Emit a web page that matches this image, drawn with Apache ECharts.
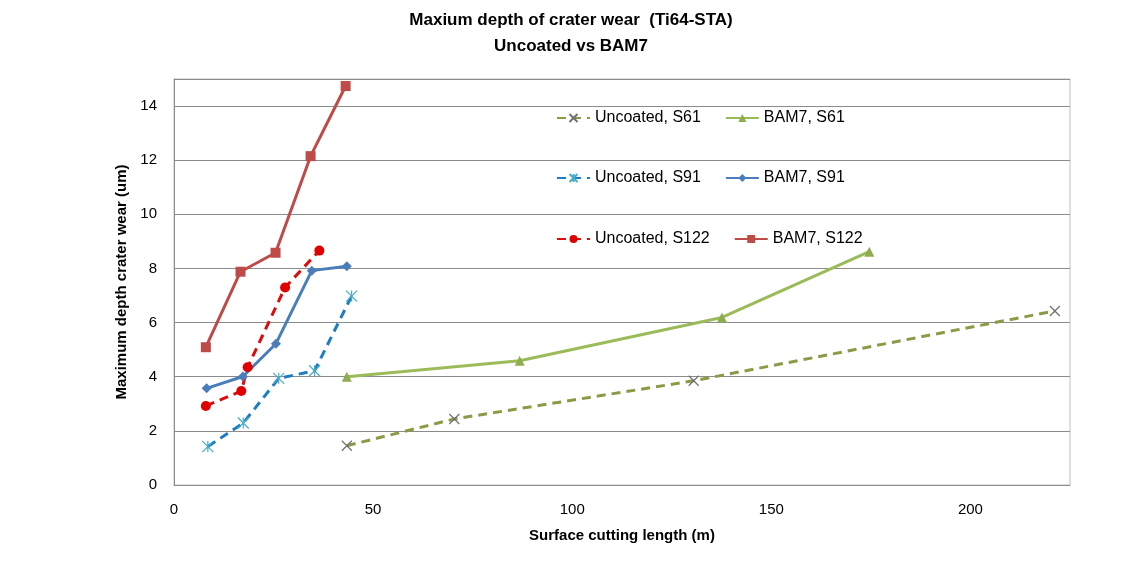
<!DOCTYPE html>
<html><head><meta charset="utf-8">
<script src="https://cdn.jsdelivr.net/npm/echarts@6/dist/echarts.min.js"></script>
<style>html,body{margin:0;padding:0;background:#fff}#c{width:1142px;height:565px}</style>
</head><body><div id="c"></div>
<script>
const seriesNames = ['Uncoated, S61','BAM7, S61','Uncoated, S91','BAM7, S91','Uncoated, S122','BAM7, S122'];
const uncoatedS61 = [[43.4,1.45],[70.4,2.44],[130.5,3.85],[221.2,6.43]];
const bam7S61 = [[43.4,4.0],[86.8,4.59],[137.6,6.19],[174.6,8.62]];
const uncoatedS91 = [[8.5,1.42],[17.4,2.29],[26.3,3.94],[35.3,4.22],[44.6,6.98]];
const bam7S91 = [[8.2,3.57],[17.3,4.01],[25.6,5.22],[34.6,7.92],[43.4,8.08]];
const uncoatedS122 = [[8.0,2.92],[16.9,3.47],[18.5,4.35],[27.9,7.30],[36.5,8.66]];
const bam7S122 = [[8.0,5.09],[16.7,7.88],[25.5,8.58],[34.3,12.15],[43.1,14.74]];
const titleLines = ['Maxium depth of crater wear  (Ti64-STA)','Uncoated vs BAM7'];
const xName = 'Surface cutting length (m)';
const yName = 'Maximum depth crater wear (um)';

const FONT = '"Liberation Sans", Arial, sans-serif';
const xSym = 'path://M0,0L10,10M10,0L0,10';
const starSym = 'path://M0,0L10,10M10,0L0,10M5,0L5,10';

function mk(name, data, color, dashed, symbol, size, symColor, symBorder) {
  return {
    name, type: 'line', data, symbol, symbolSize: size,
    lineStyle: {color, width: 3, type: dashed ? [9,6] : 'solid'},
    itemStyle: symBorder ? {color: 'rgba(0,0,0,0)', borderColor: symColor, borderWidth: 1.2} : {color: symColor, borderWidth: 0},
    color: color,
    emphasis: {disabled: true}, animation: false
  };
}
const series = [
  mk(seriesNames[0], uncoatedS61, '#8A9B45', true, xSym, 10, '#707070', true),
  mk(seriesNames[1], bam7S61, '#9BBB59', false, 'triangle', 10, '#8EAD4E', false),
  mk(seriesNames[2], uncoatedS91, '#1C7CC4', true, starSym, 11, '#4BACC6', true),
  mk(seriesNames[3], bam7S91, '#4A7EBB', false, 'diamond', 10, '#4A7EBB', false),
  mk(seriesNames[4], uncoatedS122, '#DD0B0B', true, 'circle', 10, '#E00000', false),
  mk(seriesNames[5], bam7S122, '#BE4B48', false, 'rect', 10, '#BE4B48', false)
];
function leg(top, names) {
  return {top, left: 551, itemWidth: 33, itemHeight: 10, itemGap: 24,
    textStyle: {fontFamily: FONT, fontSize: 16, color: '#000'}, data: names, selectedMode: false};
}
const chart = echarts.init(document.getElementById('c'), null, {renderer: 'canvas'});
chart.setOption({
  animation: false,
  title: [
    {text: titleLines[0], left: 'center', top: 7, textStyle: {fontFamily: FONT, fontSize: 17, fontWeight: 'bold', color: '#000'}},
    {text: titleLines[1], left: 'center', top: 33, textStyle: {fontFamily: FONT, fontSize: 17, fontWeight: 'bold', color: '#000'}}
  ],
  legend: [leg(105, seriesNames.slice(0,2)), leg(165, seriesNames.slice(2,4)), leg(226, seriesNames.slice(4,6))],
  grid: {left: 174, right: 72, top: 79, bottom: 80, show: true, borderColor: '#BFBFBF', borderWidth: 1},
  xAxis: {type: 'value', min: 0, max: 225, interval: 50,
    name: xName, nameLocation: 'middle', nameGap: 43,
    nameTextStyle: {fontFamily: FONT, fontSize: 15, fontWeight: 'bold', color: '#000'},
    axisLine: {show: true, lineStyle: {color: '#8C8C8C'}}, axisTick: {show: false},
    axisLabel: {fontFamily: FONT, fontSize: 15, color: '#000', margin: 17, showMaxLabel: false},
    splitLine: {show: false}},
  yAxis: {type: 'value', min: 0, max: 15, interval: 2,
    name: yName, nameLocation: 'middle', nameGap: 43, nameRotate: 90,
    nameTextStyle: {fontFamily: FONT, fontSize: 15, fontWeight: 'bold', color: '#000'},
    axisLine: {show: true, lineStyle: {color: '#8C8C8C'}}, axisTick: {show: false},
    axisLabel: {fontFamily: FONT, fontSize: 15, color: '#000', margin: 17, showMaxLabel: false},
    splitLine: {show: true, lineStyle: {color: '#8C8C8C', width: 1}}},
  series
});
</script></body></html>
